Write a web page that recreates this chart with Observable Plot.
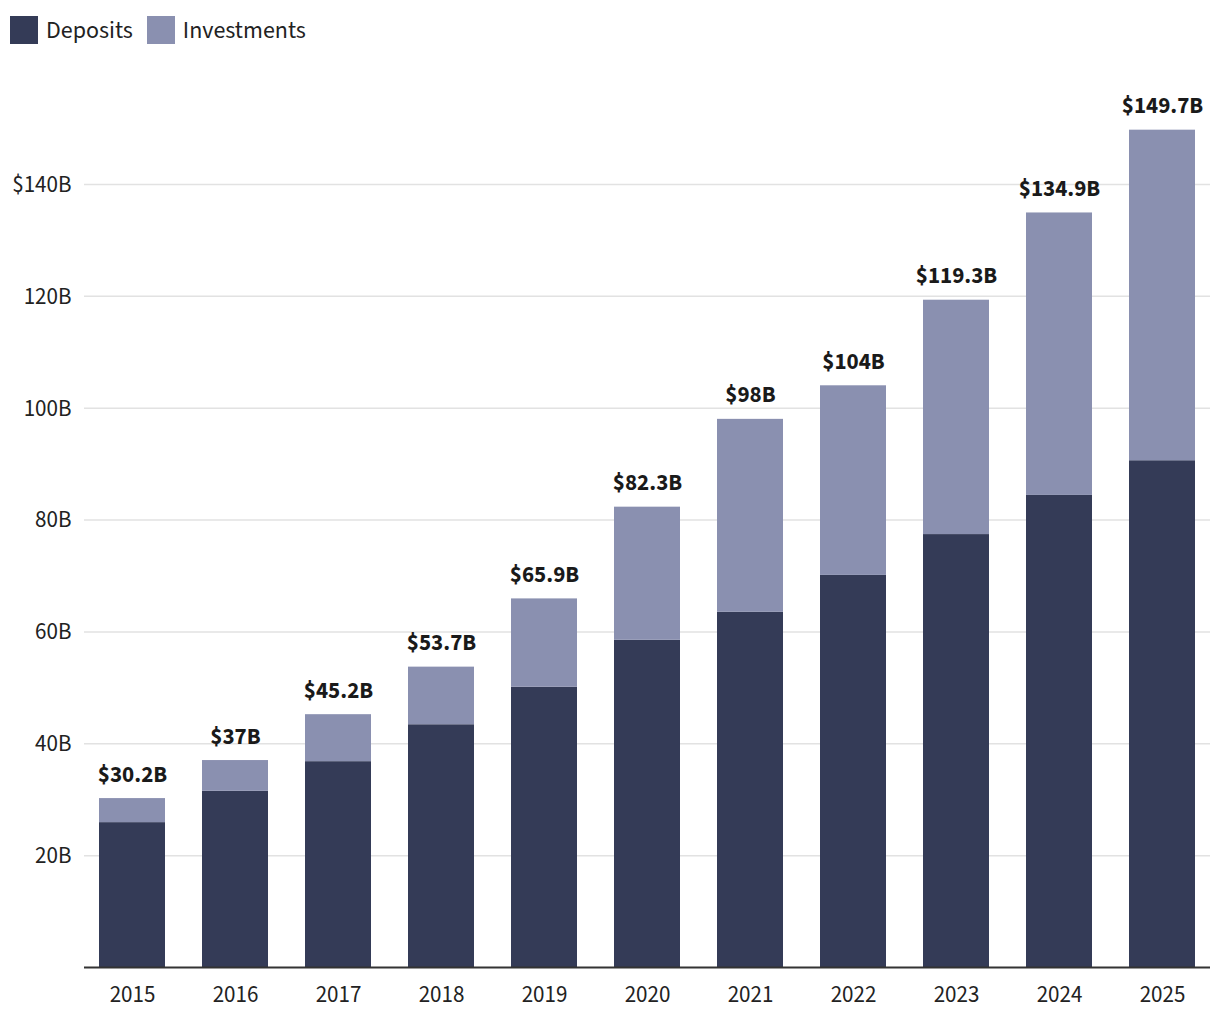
<!DOCTYPE html>
<html>
<head>
<meta charset="utf-8">
<script src="https://cdn.jsdelivr.net/npm/d3@7"></script>
<script src="https://cdn.jsdelivr.net/npm/@observablehq/plot@0.6"></script>
<style>
  body { margin: 0; background: #fff; font-family: "Source Sans 3", "Source Sans Pro", Lato, sans-serif; }
  #legend { height: 60px; display: flex; align-items: center; padding-left: 10px; font-size: 24px; color: #222; }
  .item { display: flex; align-items: center; margin-right: 14px; }
  .sw { width: 28px; height: 28px; margin-right: 8px; }
</style>
</head>
<body>
<div id="legend"></div>
<div id="chart"></div>
<script>
const years = ["2015","2016","2017","2018","2019","2020","2021","2022","2023","2024","2025"];
const totals = [30.2, 37, 45.2, 53.7, 65.9, 82.3, 98, 104, 119.3, 134.9, 149.7];
const deposits = [25.9, 31.5, 36.8, 43.4, 50.1, 58.5, 63.5, 70.1, 77.4, 84.4, 90.6];
const seriesNames = ["Deposits", "Investments"];
const seriesColors = ["#343b57", "#8a90b0"];
const yTicks = [20, 40, 60, 80, 100, 120, 140];

const rows = [];
years.forEach((y, i) => {
  rows.push({year: y, series: "Deposits", value: deposits[i]});
  rows.push({year: y, series: "Investments", value: +(totals[i] - deposits[i]).toFixed(1)});
});
const totalRows = years.map((y, i) => ({year: y, total: totals[i]}));

const legend = document.getElementById("legend");
seriesNames.forEach((n, i) => {
  const it = document.createElement("div");
  it.className = "item";
  it.innerHTML = `<div class="sw" style="background:${seriesColors[i]}"></div><span>${n}</span>`;
  legend.appendChild(it);
});

const chart = Plot.plot({
  width: 1220,
  height: 960,
  marginLeft: 84,
  marginRight: 10,
  marginTop: 68,
  marginBottom: 53,
  style: {fontFamily: '"Source Sans 3", "Source Sans Pro", Lato, sans-serif', fontSize: "23px", color: "#222"},
  x: {domain: years, paddingInner: 0.36, paddingOuter: 0.14, label: null},
  y: {domain: [0, 150], label: null},
  color: {domain: seriesNames, range: seriesColors},
  marks: [
    Plot.gridY(yTicks, {stroke: "#e2e2e2", strokeOpacity: 1, strokeWidth: 1.5}),
    Plot.barY(rows, Plot.stackY({x: "year", y: "value", fill: "series", order: seriesNames})),
    Plot.ruleY([0], {stroke: "#333", strokeWidth: 2}),
    Plot.axisY(yTicks, {tickSize: 0, tickPadding: 13, tickFormat: d => d === 140 ? `$${d}B` : `${d}B`, fontSize: 23}),
    Plot.axisX({tickSize: 0, tickPadding: 18, fontSize: 23}),
    Plot.text(totalRows, {x: "year", y: "total", text: d => `$${d3.format("~")(d.total)}B`, lineAnchor: "bottom", dy: -17, fontWeight: "bold", fontSize: 23, fill: "#1a1a1a"})
  ]
});
document.getElementById("chart").appendChild(chart);
</script>
</body>
</html>
